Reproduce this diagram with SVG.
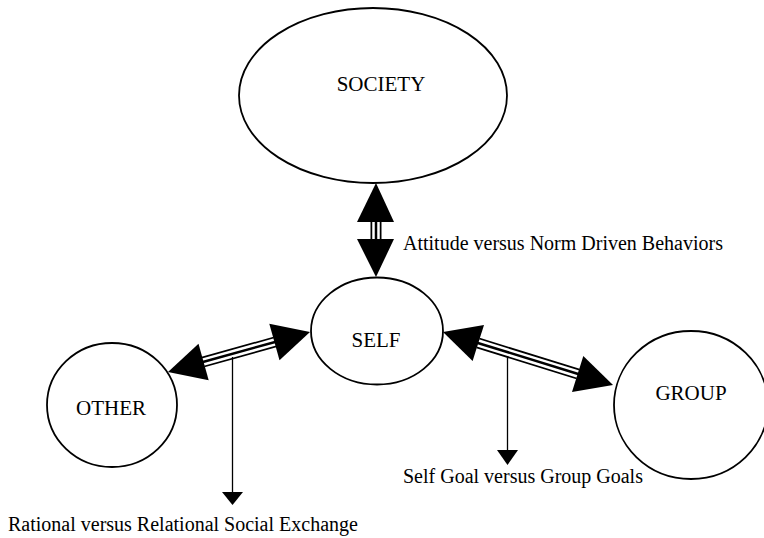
<svg xmlns="http://www.w3.org/2000/svg" width="764" height="538" viewBox="0 0 764 538">
  <style>
    .node ellipse { fill: #fff; stroke: #000; stroke-width: 1.8; }
    .node text { font-family: "Liberation Serif", "Times New Roman", serif; font-size: 21px; fill: #000; text-anchor: middle; }
    .label { font-family: "Liberation Serif", "Times New Roman", serif; font-size: 20px; fill: #000; }
    .head { fill: #000; stroke: none; }
    .t1 { stroke: #000; stroke-width: 11; fill: none; }
    .t2 { stroke: #fff; stroke-width: 7.5; fill: none; }
    .t3 { stroke: #000; stroke-width: 2.5; fill: none; }
    .drop { stroke: #000; stroke-width: 1.3; fill: none; }
  </style>

  <rect width="764" height="538" fill="#fff"/>

  <g id="society" class="node">
    <ellipse cx="373" cy="95.5" rx="134" ry="87.5"/>
    <text x="381" y="90.5">SOCIETY</text>
  </g>

  <g id="self" class="node">
    <ellipse cx="377" cy="331" rx="66" ry="53.5"/>
    <text x="376" y="347">SELF</text>
  </g>

  <g id="other" class="node">
    <ellipse cx="112" cy="405" rx="65" ry="62"/>
    <text x="111" y="415">OTHER</text>
  </g>

  <g id="group" class="node">
    <ellipse cx="691" cy="405" rx="77" ry="74"/>
    <text x="691" y="400">GROUP</text>
  </g>

  <g id="connectors">
    <!-- SOCIETY <-> SELF -->
    <g id="society-self">
      <line class="t1" x1="376" y1="221" x2="376" y2="240"/>
      <line class="t2" x1="376" y1="220" x2="376" y2="241"/>
      <line class="t3" x1="376" y1="220" x2="376" y2="241"/>
      <polygon class="head" points="376,183 357,222 394,222"/>
      <polygon class="head" points="357,239 394,239 376,277"/>
    </g>

    <!-- OTHER <-> SELF -->
    <g id="other-self">
      <line class="t1" x1="203" y1="362" x2="275" y2="342"/>
      <line class="t2" x1="202" y1="362.3" x2="276" y2="341.7"/>
      <line class="t3" x1="202" y1="362.3" x2="276" y2="341.7"/>
      <polygon class="head" points="168,372 208.7,380.3 198.5,343.7"/>
      <polygon class="head" points="310,332 279.5,360.3 269.3,323.7"/>
      <line class="drop" x1="232.5" y1="357" x2="232.5" y2="493"/>
      <polygon class="head" points="222,492 243,492 232.5,505"/>
    </g>

    <!-- SELF <-> GROUP -->
    <g id="self-group">
      <line class="t1" x1="478" y1="343" x2="578" y2="374"/>
      <line class="t2" x1="477" y1="342.7" x2="579" y2="374.3"/>
      <line class="t3" x1="477" y1="342.7" x2="579" y2="374.3"/>
      <polygon class="head" points="443,332 472.6,361.1 484,324.9"/>
      <polygon class="head" points="613,385 572,392.1 583.3,355.9"/>
      <line class="drop" x1="507.5" y1="356" x2="507.5" y2="451"/>
      <polygon class="head" points="497,450 518,450 507.5,465"/>
    </g>
  </g>

  <text class="label" x="403" y="250">Attitude versus Norm Driven Behaviors</text>
  <text class="label" x="403" y="483">Self Goal versus Group Goals</text>
  <text class="label" x="8" y="531">Rational versus Relational Social Exchange</text>
</svg>
